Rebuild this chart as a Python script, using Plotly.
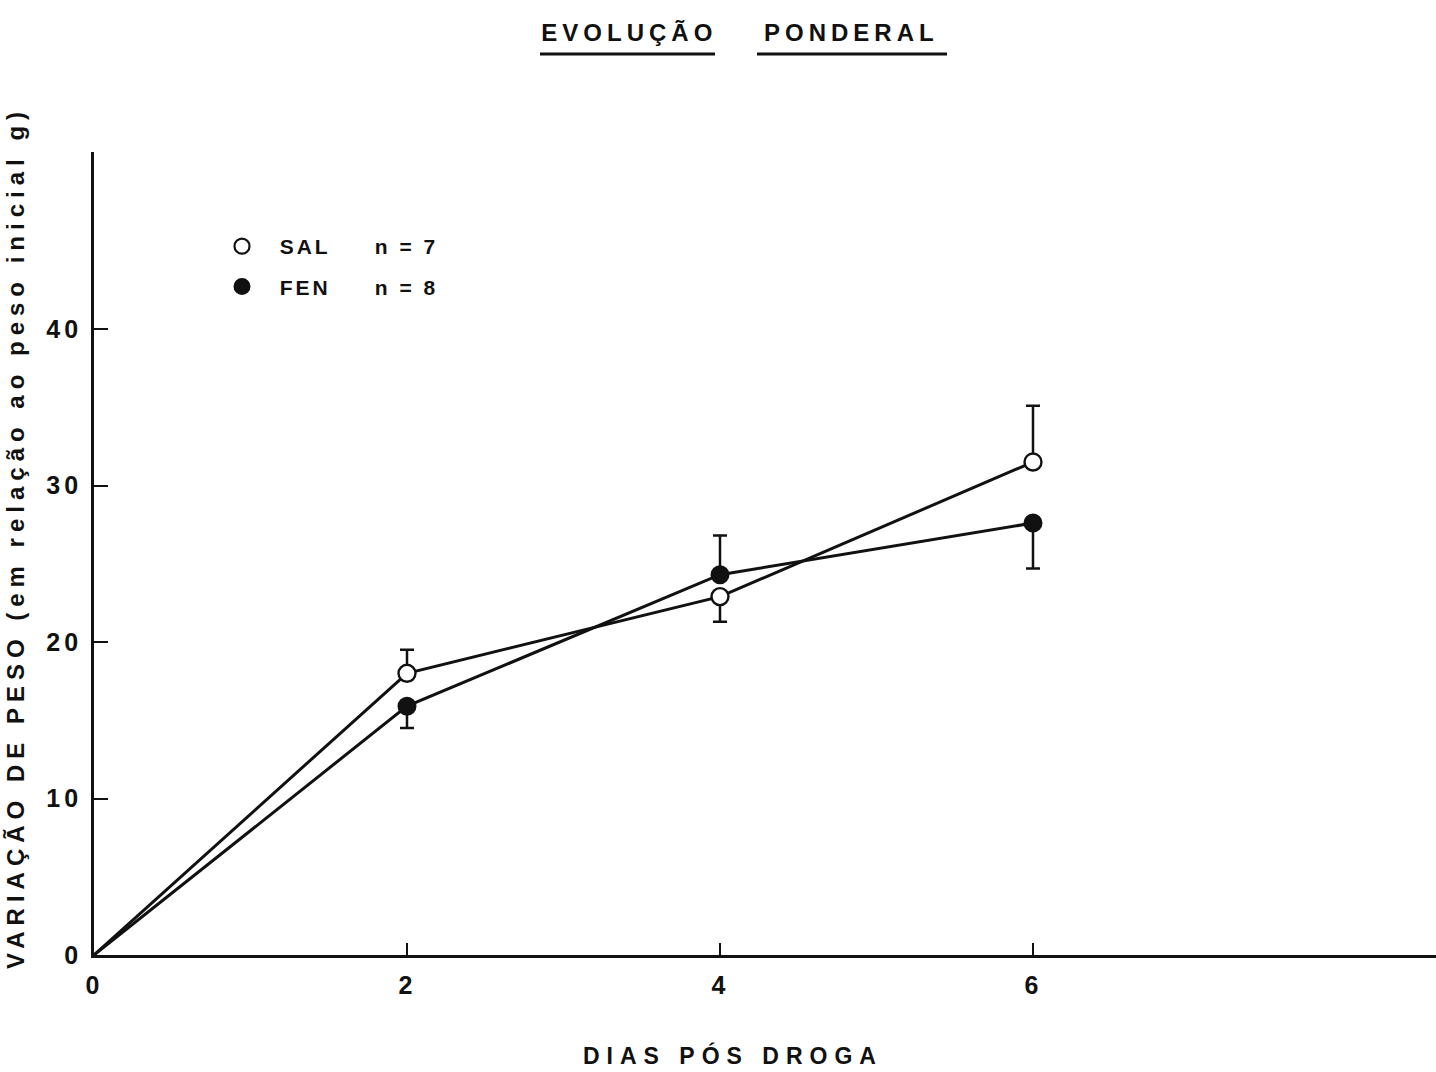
import plotly.graph_objects as go

# ---- data ----
days = [0, 2, 4, 6]
sal_mean = [0, 18.0, 22.9, 31.5]
sal_err_plus = [0, 1.5, 0, 3.6]
sal_err_minus = [0, 0, 1.6, 0]
fen_mean = [0, 15.9, 24.3, 27.6]
fen_err_plus = [0, 0, 2.5, 0]
fen_err_minus = [0, 1.4, 0, 2.9]
x_ticks = [0, 2, 4, 6]
y_ticks = [0, 10, 20, 30, 40]
sal_label = "SAL"
fen_label = "FEN"
sal_n = "n = 7"
fen_n = "n = 8"
title_text = "EVOLUÇÃO\u00a0\u00a0\u00a0\u00a0PONDERAL"
x_title = "DIAS PÓS DROGA"
y_title = "VARIAÇÃO DE PESO (em relação ao peso inicial g)"

FONT = "Liberation Sans"
BLACK = "#111111"


def spaced(txt, px, bold=True):
    inner = f"<b>{txt}</b>" if bold else txt
    return f'<span style="letter-spacing:{px}px">{inner}</span>'


fig = go.Figure()

# connecting lines (through the origin)
for ys in (sal_mean, fen_mean):
    fig.add_trace(go.Scatter(x=days, y=ys, mode="lines",
                             line=dict(color=BLACK, width=3),
                             showlegend=False, hoverinfo="skip"))

# markers with one-sided error bars (no marker at the origin)
fig.add_trace(go.Scatter(
    x=days[1:], y=fen_mean[1:], mode="markers", showlegend=False,
    marker=dict(symbol="circle", size=17, color=BLACK,
                line=dict(color=BLACK, width=2)),
    error_y=dict(type="data", symmetric=False, array=fen_err_plus[1:],
                 arrayminus=fen_err_minus[1:], color=BLACK,
                 thickness=2.5, width=7)))
fig.add_trace(go.Scatter(
    x=days[1:], y=sal_mean[1:], mode="markers", showlegend=False,
    marker=dict(symbol="circle", size=17, color="white",
                line=dict(color=BLACK, width=2.4)),
    error_y=dict(type="data", symmetric=False, array=sal_err_plus[1:],
                 arrayminus=sal_err_minus[1:], color=BLACK,
                 thickness=2.5, width=7)))

# legend entries
nb = "\u00a0"
fig.add_trace(go.Scatter(
    x=[None], y=[None], mode="markers", legendgroup="sal",
    name=spaced(nb * 2 + sal_label + nb * 5 + sal_n, 3),
    marker=dict(symbol="circle", size=15, color="white",
                line=dict(color=BLACK, width=2.2))))
fig.add_trace(go.Scatter(
    x=[None], y=[None], mode="markers", legendgroup="fen",
    name=spaced(nb * 2 + fen_label + nb * 5 + fen_n, 3),
    marker=dict(symbol="circle", size=15, color=BLACK,
                line=dict(color=BLACK, width=2))))

L, R, T, B = 94, 0, 152, 117
W, H = 1436, 1072
pw, ph = W - L - R, H - T - B


def px_x(p):
    return (p - L) / pw


def px_y(p):
    return (H - B - p) / ph


fig.update_layout(
    width=W, height=H,
    margin=dict(l=L, r=R, t=T, b=B),
    paper_bgcolor="white", plot_bgcolor="white",
    font=dict(family=FONT, color=BLACK, size=24),
    showlegend=True,
    legend=dict(x=px_x(222), y=px_y(226), xanchor="left", yanchor="top",
                bgcolor="rgba(0,0,0,0)", font=dict(size=21, family=FONT),
                traceorder="grouped", tracegroupgap=10),
    title=dict(text=spaced(title_text, 5), x=740 / W, xanchor="center",
               y=1 - 33 / H, yanchor="middle",
               font=dict(size=24, family=FONT)),
)

fig.update_xaxes(range=[0, pw / 156.5], tickvals=x_ticks,
                 ticktext=[spaced(str(v), 3) for v in x_ticks],
                 ticks="inside", ticklen=12, tickwidth=2.2, tickcolor=BLACK,
                 showline=True, linewidth=2.8, linecolor=BLACK,
                 showgrid=False, zeroline=False, ticklabelstandoff=6,
                 tickfont=dict(size=25, family=FONT))
fig.update_yaxes(range=[0, ph / 15.65], tickvals=y_ticks,
                 ticktext=[spaced(str(v), 4) for v in y_ticks],
                 ticks="inside", ticklen=14, tickwidth=2.2, tickcolor=BLACK,
                 showline=True, linewidth=2.8, linecolor=BLACK,
                 showgrid=False, zeroline=False, ticklabelstandoff=4,
                 tickfont=dict(size=25, family=FONT))

# axis titles
fig.add_annotation(text=spaced(x_title, 7), xref="paper", yref="paper",
                   x=px_x(733), y=px_y(1055), xanchor="center",
                   yanchor="middle", showarrow=False,
                   font=dict(size=23, family=FONT))
fig.add_annotation(text=spaced(y_title, 6), xref="paper", yref="paper",
                   x=px_x(15), y=px_y(538), xanchor="center",
                   yanchor="middle", textangle=-90, showarrow=False,
                   font=dict(size=24, family=FONT))

# title underlines
for x0, x1 in ((540, 715), (757, 947)):
    fig.add_shape(type="line", xref="paper", yref="paper",
                  x0=px_x(x0), x1=px_x(x1), y0=px_y(54), y1=px_y(54),
                  line=dict(color=BLACK, width=2.8))

fig.write_html("out.html")
